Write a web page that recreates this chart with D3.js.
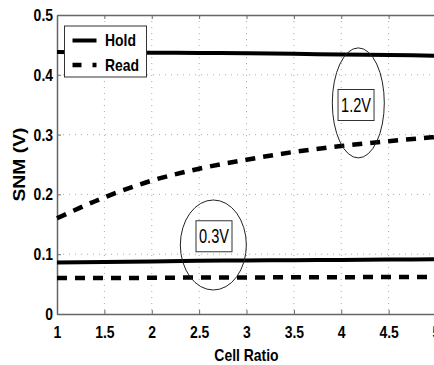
<!DOCTYPE html>
<html>
<head>
<meta charset="utf-8">
<script src="https://cdn.jsdelivr.net/npm/d3@7"></script>
<style>
  html, body { margin: 0; padding: 0; background: #fff; }
  svg { display: block; }
  text { font-family: "Liberation Sans", Arial, sans-serif; }
</style>
</head>
<body>
<div id="chart"></div>
<script>
// cell ratio (x) and SNM values (V)
const cellRatio = [1, 1.5, 2, 2.5, 3, 3.5, 4, 4.5, 5];
const hold12 = [0.438, 0.4375, 0.437, 0.4365, 0.436, 0.435, 0.434, 0.433, 0.432];
const read12 = [0.160, 0.195, 0.223, 0.243, 0.258, 0.271, 0.281, 0.289, 0.296];
const hold03 = [0.086, 0.087, 0.088, 0.089, 0.0895, 0.090, 0.0905, 0.091, 0.0915];
const read03 = [0.060, 0.060, 0.0605, 0.061, 0.061, 0.0615, 0.0615, 0.062, 0.062];

const xTicks = [1, 1.5, 2, 2.5, 3, 3.5, 4, 4.5, 5];
const yTicks = [0, 0.1, 0.2, 0.3, 0.4, 0.5];
const legendItems = ['Hold', 'Read'];

const W = 434, H = 365;
const margin = { top: 15, right: -2, bottom: 51, left: 57 };
const width = W - margin.left - margin.right;
const height = H - margin.top - margin.bottom;

// squeeze text horizontally, the original uses a narrow face
function condense(sel, k) {
  sel.each(function () {
    const len = this.getComputedTextLength();
    d3.select(this).attr('textLength', len * k).attr('lengthAdjust', 'spacingAndGlyphs');
  });
}

const svg = d3.select('#chart').append('svg')
  .attr('width', W)
  .attr('height', H);

const g = svg.append('g')
  .attr('transform', `translate(${margin.left},${margin.top})`);

const x = d3.scaleLinear().domain([1, 5]).range([0, width]);
const y = d3.scaleLinear().domain([0, 0.5]).range([height, 0]);

// dotted grid
g.append('g')
  .selectAll('line')
  .data(xTicks.slice(1, -1))
  .enter().append('line')
  .attr('x1', d => x(d)).attr('x2', d => x(d))
  .attr('y1', 0).attr('y2', height)
  .attr('stroke', '#aaa').attr('stroke-width', 1)
  .attr('stroke-dasharray', '1,5');

g.append('g')
  .selectAll('line')
  .data(yTicks.slice(1, -1))
  .enter().append('line')
  .attr('x1', 0).attr('x2', width)
  .attr('y1', d => y(d)).attr('y2', d => y(d))
  .attr('stroke', '#aaa').attr('stroke-width', 1)
  .attr('stroke-dasharray', '1,5');

// axes
const xAxis = g.append('g')
  .attr('transform', `translate(0,${height})`)
  .call(d3.axisBottom(x).tickValues(xTicks).tickFormat(d3.format('')).tickSizeInner(-4).tickSizeOuter(0).tickPadding(12));

const yAxis = g.append('g')
  .call(d3.axisLeft(y).tickValues(yTicks).tickFormat(d3.format('')).tickSizeInner(-4).tickSizeOuter(0).tickPadding(4));

// top frame with inward ticks
const topAxis = g.append('g')
  .call(d3.axisTop(x).tickValues(xTicks).tickFormat('').tickSizeInner(-4).tickSizeOuter(0));

[xAxis, yAxis, topAxis].forEach(a => {
  a.select('.domain').attr('stroke', '#666').attr('stroke-width', 1.5);
  a.selectAll('.tick line').attr('stroke', '#666');
  a.selectAll('text')
    .attr('fill', '#000')
    .style('font-family', '"Liberation Sans", Arial, sans-serif')
    .style('font-size', '17px')
    .style('font-weight', 'bold')
    .call(condense, 0.82);
});

// axis titles
g.append('text')
  .attr('x', width / 2)
  .attr('y', height + 47)
  .attr('text-anchor', 'middle')
  .style('font-size', '17px')
  .style('font-weight', 'bold')
  .text('Cell Ratio')
  .call(condense, 0.82);

g.append('text')
  .attr('transform', `translate(${-32},${height / 2}) rotate(-90)`)
  .attr('text-anchor', 'middle')
  .style('font-size', '17px')
  .style('font-weight', 'bold')
  .attr('textLength', 74)
  .attr('lengthAdjust', 'spacingAndGlyphs')
  .text('SNM (V)');

// curves
const line = d3.line()
  .x((d, i) => x(cellRatio[i]))
  .y(d => y(d))
  .curve(d3.curveMonotoneX);

const series = [
  { values: hold12, dash: null, w: 4 },
  { values: read12, dash: '10,8', w: 4.5 },
  { values: hold03, dash: null, w: 4 },
  { values: read03, dash: '10,8', w: 4.5 }
];

g.selectAll('.series')
  .data(series)
  .enter().append('path')
  .attr('class', 'series')
  .attr('fill', 'none')
  .attr('stroke', '#000')
  .attr('stroke-width', d => d.w)
  .attr('stroke-dasharray', d => d.dash)
  .attr('d', d => line(d.values));

// annotations: ellipses with boxed voltage labels
const notes = [
  { label: '1.2V', cx: 4.18, cy: 0.353, rx: 26, ry: 55, bx: 4.156, by: 0.3495 },
  { label: '0.3V', cx: 2.65, cy: 0.1154, rx: 33, ry: 45, bx: 2.657, by: 0.130 }
];

notes.forEach(n => {
  g.append('ellipse')
    .attr('cx', x(n.cx)).attr('cy', y(n.cy))
    .attr('rx', n.rx).attr('ry', n.ry)
    .attr('fill', 'none').attr('stroke', '#222').attr('stroke-width', 1);
  const t = g.append('text')
    .attr('x', x(n.bx)).attr('y', y(n.by))
    .attr('text-anchor', 'middle')
    .attr('dominant-baseline', 'central')
    .style('font-size', '20px')
    .attr('textLength', 30)
    .attr('lengthAdjust', 'spacingAndGlyphs')
    .text(n.label);
  const bx = x(n.bx), by = y(n.by);
  g.insert('rect', () => t.node())
    .attr('x', bx - 18).attr('y', by - 15.5)
    .attr('width', 36).attr('height', 31)
    .attr('fill', '#fff').attr('stroke', '#333').attr('stroke-width', 1);
});

// legend
const lg = g.append('g').attr('transform', 'translate(7.5,11)');
lg.append('rect')
  .attr('width', 82).attr('height', 51)
  .attr('fill', '#fff').attr('stroke', '#333').attr('stroke-width', 1);

legendItems.forEach((name, i) => {
  const ly = 14.5 + i * 24.5;
  lg.append('line')
    .attr('x1', 8).attr('x2', 32)
    .attr('y1', ly).attr('y2', ly)
    .attr('stroke', '#000')
    .attr('stroke-width', i === 0 ? 4 : 4.5)
    .attr('stroke-dasharray', i === 0 ? null : '9,11');
  lg.append('text')
    .attr('x', 40.5).attr('y', ly)
    .attr('dominant-baseline', 'central')
    .style('font-size', '17px')
    .style('font-weight', 'bold')
    .text(name)
    .call(condense, 0.82);
});
</script>
</body>
</html>
